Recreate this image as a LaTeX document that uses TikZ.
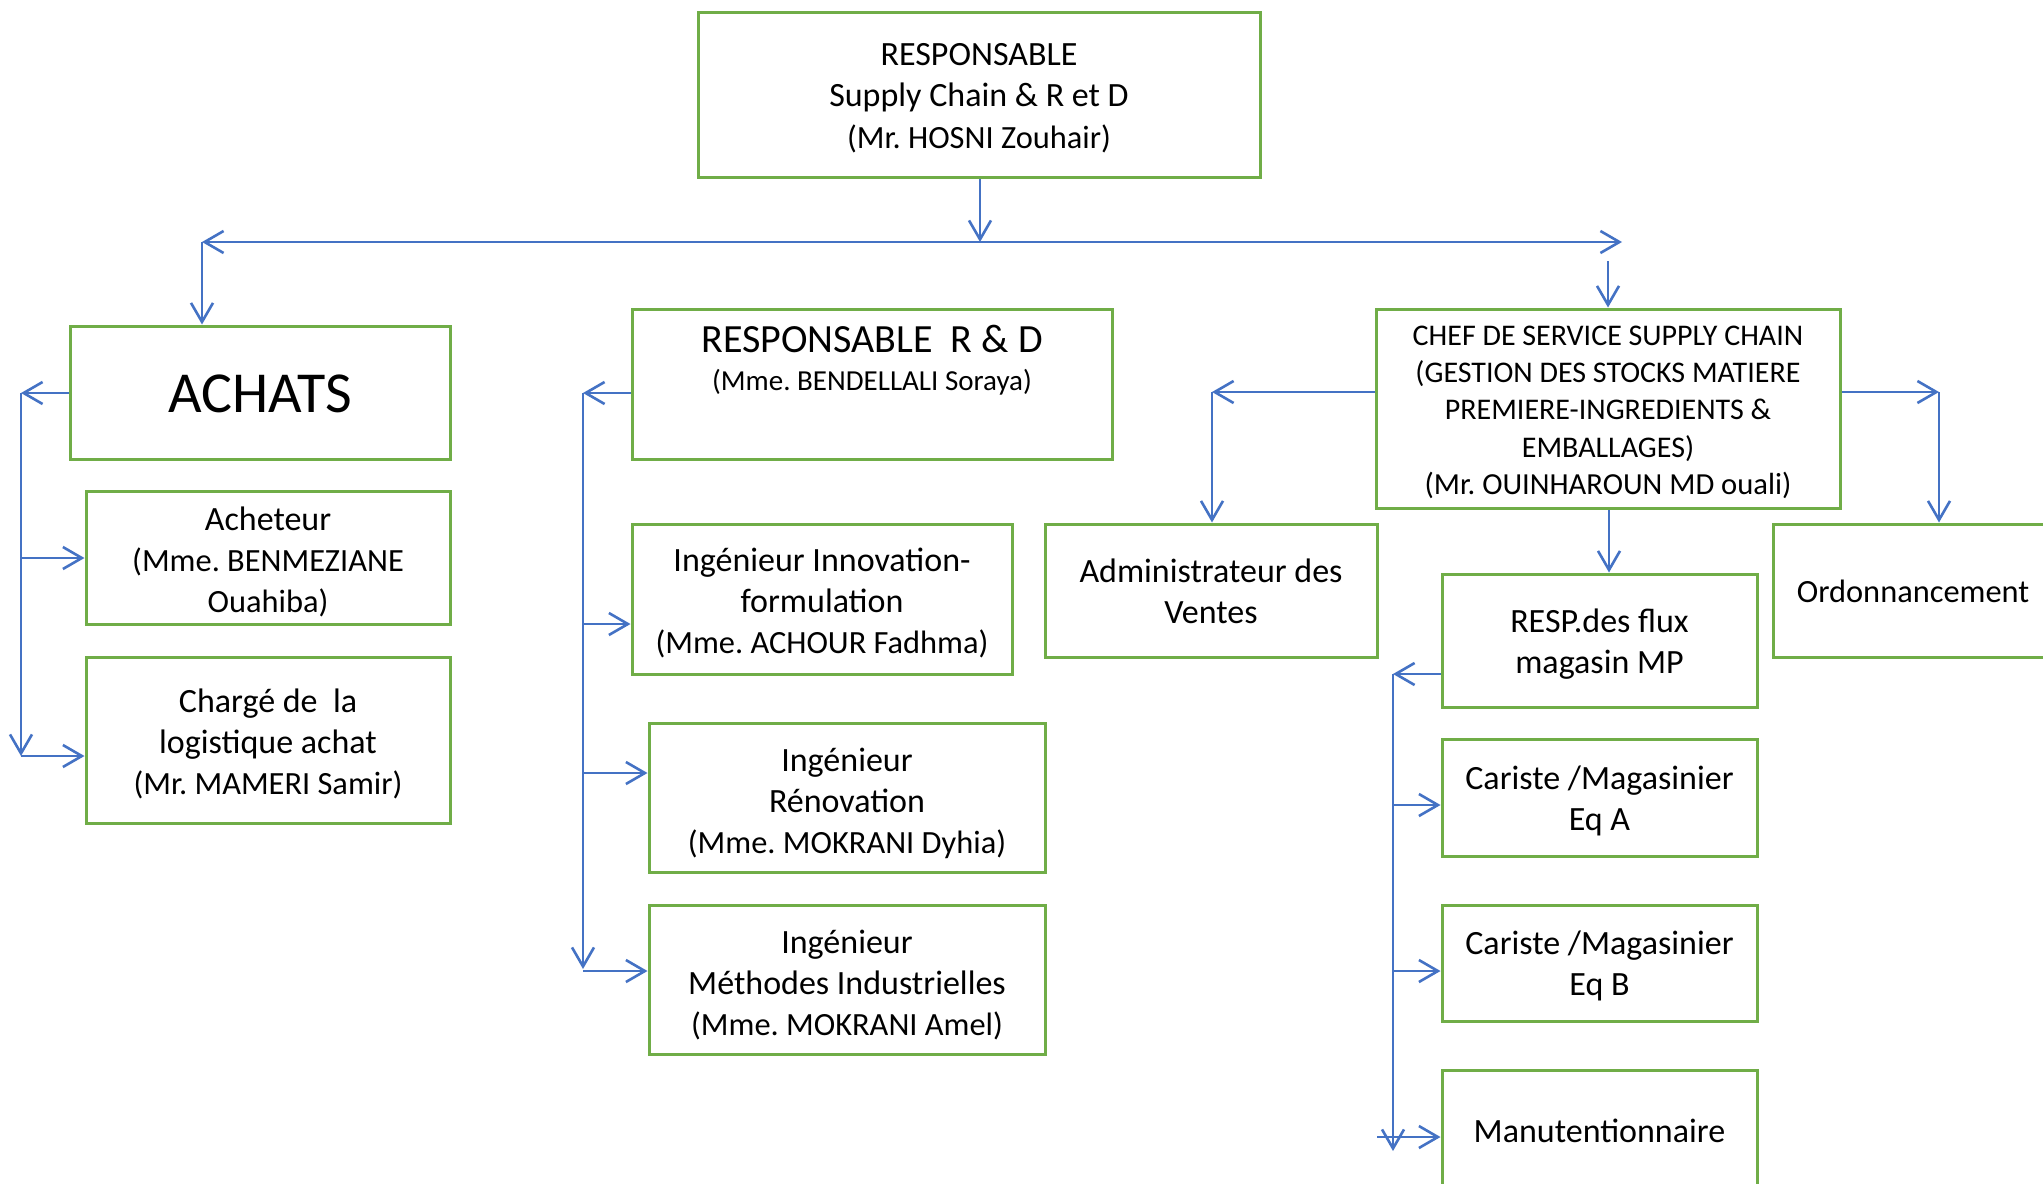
\documentclass[tikz,border=0pt]{standalone}
\usepackage{fontspec}
\setmainfont{Carlito}
\usetikzlibrary{arrows.meta}
\definecolor{boxgreen}{HTML}{70AD47}
\definecolor{linkblue}{HTML}{4472C4}
\newcommand\bxt[2][-2pt]{\raisebox{#1}[\height][\depth]{\begin{tabular}{@{}c@{}}#2\end{tabular}}}
\newcommand\nmtxt[1]{{\fontsize{16.2}{20.5}\selectfont #1}}
\begin{document}
\frenchspacing
\begin{tikzpicture}[x=0.5pt,y=-0.5pt,
  box/.style={draw=boxgreen, line width=1.5pt, inner sep=0pt, fill=white},
  txt/.style={font=\fontsize{17}{20.5}\selectfont},
  link/.style={draw=linkblue, line width=1.3pt, -{Straight Barb[length=9.5pt,width=11pt]}},
  twoway/.style={draw=linkblue, line width=1.3pt, {Straight Barb[length=9.5pt,width=11pt]}-{Straight Barb[length=9.5pt,width=11pt]}}]
\useasboundingbox (0,0) rectangle (2043,1183);
\begin{scope}
\clip (0,0) rectangle (2043,1183);
% boxes
\node[box, minimum width=281pt, minimum height=82.5pt, font=\fontsize{17}{20.8}\selectfont] (top) at (979,94.5)
  {\bxt[-2pt]{RESPONSABLE\\Supply Chain \& R et D\\\nmtxt{(Mr. HOSNI Zouhair)}}};
\node[box, minimum width=190pt, minimum height=66.5pt, font=\fontsize{29}{34}\selectfont] (achats) at (260,392.5) {\bxt[-3.3pt]{ACHATS}};
\node[box, txt, minimum width=182pt, minimum height=66.5pt] (acheteur) at (268,557.5)
  {\bxt[-3pt]{Acheteur\\\nmtxt{(Mme. BENMEZIANE}\\\nmtxt{Ouahiba)}}};
\node[box, txt, minimum width=182pt, minimum height=83pt] (charge) at (268,740)
  {\bxt[-2.6pt]{Chargé de\ \ la\\logistique achat\\\nmtxt{(Mr. MAMERI Samir)}}};
\node[box, minimum width=240pt, minimum height=75pt] (rd) at (872,384) {};
\node[font=\fontsize{20}{23}\selectfont, inner sep=0pt] (rdtitle) at (872,339) {RESPONSABLE\ \ R \& D};
\node[font=\fontsize{14.5}{17}\selectfont, inner sep=0pt] (rdname) at (872,382) {(Mme. BENDELLALI Soraya)};
\node[box, txt, minimum width=190pt, minimum height=75pt] (innov) at (822,599)
  {\bxt[-2.6pt]{Ingénieur Innovation-\\formulation\\\nmtxt{(Mme. ACHOUR Fadhma)}}};
\node[box, txt, minimum width=198pt, minimum height=74.5pt] (renov) at (847,797.5)
  {\bxt[-3.3pt]{Ingénieur\\Rénovation\\\nmtxt{(Mme. MOKRANI Dyhia)}}};
\node[box, txt, minimum width=198pt, minimum height=74.5pt] (meth) at (847,979.5)
  {\bxt[-3.3pt]{Ingénieur\\Méthodes Industrielles\\\nmtxt{(Mme. MOKRANI Amel)}}};
\node[box, txt, minimum width=166pt, minimum height=66.5pt] (admin) at (1211,590.5)
  {\bxt[-2.3pt]{Administrateur des\\Ventes}};
\node[box, minimum width=232pt, minimum height=99.5pt, font=\fontsize{15}{18.7}\selectfont] (chef) at (1608,408.5)
  {\bxt[-2pt]{CHEF DE SERVICE SUPPLY CHAIN\\(GESTION DES STOCKS MATIERE\\PREMIERE-INGREDIENTS \&\\EMBALLAGES)\\\nmtxt{\fontsize{15.3}{18.7}\selectfont(Mr. OUINHAROUN MD ouali)}}};
\node[box, minimum width=140pt, minimum height=66.5pt, font=\fontsize{16.2}{20}\selectfont] (ordo) at (1913,590.5) {\bxt[-2pt]{Ordonnancement}};
\node[box, txt, minimum width=157.5pt, minimum height=66.5pt] (resp) at (1599.5,640.5)
  {\bxt[-2.3pt]{RESP.des flux\\magasin MP}};
\node[box, txt, minimum width=157.5pt, minimum height=58.5pt] (carA) at (1599.5,797.5)
  {\bxt[-2pt]{Cariste /Magasinier\\Eq A}};
\node[box, txt, minimum width=157.5pt, minimum height=58pt] (carB) at (1599.5,963)
  {\bxt[-2pt]{Cariste /Magasinier\\Eq B}};
\node[box, txt, minimum width=157.5pt, minimum height=60pt] (manu) at (1599.5,1130) {\bxt[-2pt]{Manutentionnaire}};
\end{scope}
% coordinates
\coordinate (hL) at (202,242);
\coordinate (hR) at (1622,242);
\coordinate (hT) at (980,242);
\coordinate (cT) at (1608,261);
\coordinate (aL) at (21,393);
\coordinate (aM) at (21,558);
\coordinate (aB) at (21,756);
\coordinate (rL) at (583,393);
\coordinate (rI) at (583,624);
\coordinate (rR) at (583,773);
\coordinate (rM) at (583,971);
\coordinate (rB) at (583,969);
\coordinate (cL) at (1212,392);
\coordinate (cR) at (1939,392);
\coordinate (cS) at (1609,0);
\coordinate (sL) at (1393,674);
\coordinate (sA) at (1393,805);
\coordinate (sB) at (1393,971);
\coordinate (sM) at (1377,1137);
\coordinate (sE) at (1393,1151);
% connectors
\draw[link] (top.south -| hT) -- (hT);
\draw[twoway] (hL) -- (hR);
\draw[link] (hL) -- (hL |- achats.north);
\draw[link] (cT) -- (cT |- chef.north);
\draw[link] (aL -| achats.west) -- (aL);
\draw[link] (aL) -- (aB);
\draw[link] (aM) -- (aM -| acheteur.west);
\draw[link] (aB) -- (aB -| charge.west);
\draw[link] (rL -| rd.west) -- (rL);
\draw[link] (rL) -- (rB);
\draw[link] (rI) -- (rI -| innov.west);
\draw[link] (rR) -- (rR -| renov.west);
\draw[link] (rM) -- (rM -| meth.west);
\draw[link] (cL -| chef.west) -- (cL);
\draw[link] (cL) -- (cL |- admin.north);
\draw[link] (cR -| chef.east) -- (cR);
\draw[link] (cR) -- (cR |- ordo.north);
\draw[link] (chef.south -| cS) -- (cS |- resp.north);
\draw[link] (sL -| resp.west) -- (sL);
\draw[link] (sL) -- (sE);
\draw[link] (sA) -- (sA -| carA.west);
\draw[link] (sB) -- (sB -| carB.west);
\draw[link] (sM) -- (sM -| manu.west);
\end{tikzpicture}
\end{document}
